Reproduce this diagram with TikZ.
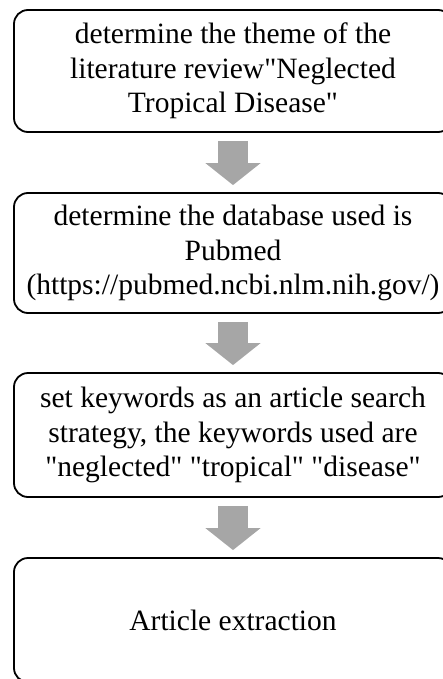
\documentclass[tikz,border=0pt]{standalone}
\usepackage{fontspec}
\setmainfont{Liberation Serif}[Ligatures=TeXOff]
\usepackage{tikz}
\usepackage{xcolor}
\usetikzlibrary{arrows.meta, positioning}
\definecolor{cArrow}{RGB}{166,166,166}
\tikzset{
	stepbox/.style  ={rectangle, rounded corners=14pt, draw=black, line width=1.8pt, minimum width=438pt, text centered, align=center, inner sep=0pt, font=\fontsize{29.5}{34.5}\selectfont},
	% fat grey arrows between the steps
	downarrow/.style={line width=30pt, cArrow, -{Triangle[length=22pt, width=54pt]}},
}
\begin{document}
\begin{tikzpicture}[x=1pt, y=1pt]
	\useasboundingbox (0,0) rectangle (443,-679);
	\node[stepbox, minimum height=122pt] (theme) at (233,-71) {determine the theme of the\\literature review"Neglected\\Tropical Disease"};
	\node[stepbox, minimum height=120pt] (database) at (233,-253) {determine the database used is\\Pubmed\\(https://pubmed.ncbi.nlm.nih.gov/)};
	\node[stepbox, minimum height=124pt] (keywords) at (233,-435) {set keywords as an article search\\strategy, the keywords used are\\"neglected" "tropical" "disease"};
	\node[stepbox, minimum height=124pt] (extract) at (233,-620) {Article extraction};
	\foreach \a/\b in {theme/database, database/keywords, keywords/extract}
		\draw[downarrow] ([yshift=-8pt]\a.south) -- ([yshift=7pt]\b.north);
\end{tikzpicture}
\end{document}
